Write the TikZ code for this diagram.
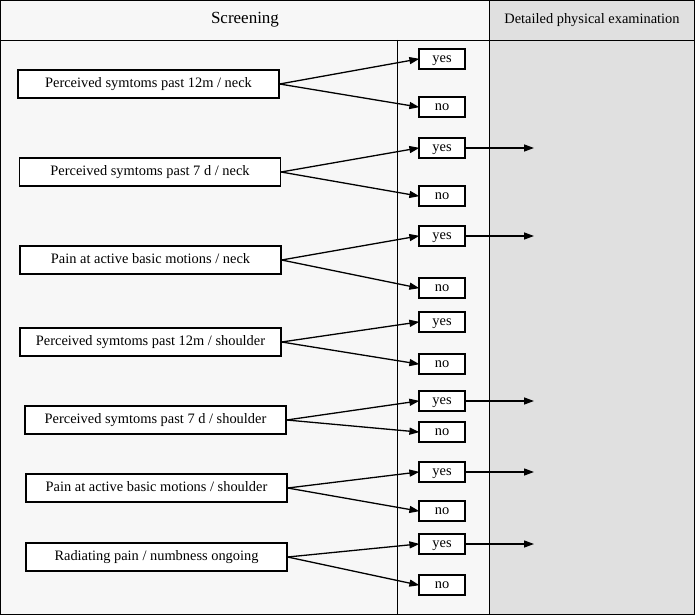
\documentclass[tikz,border=0pt]{standalone}
\usepackage{fontspec}
\setmainfont{Liberation Serif}
\usetikzlibrary{arrows.meta}

\tikzset{
  qbox/.style={draw, line width=1.2pt, fill=white, minimum width=261pt, minimum height=28pt,
    inner sep=0pt, text height=10pt, text depth=3pt, font=\fontsize{14.4}{16}\selectfont},
  abox/.style={draw, line width=1.2pt, fill=white, minimum width=46pt, minimum height=20pt,
    inner sep=0pt, text height=10pt, text depth=3pt, font=\fontsize{14.4}{16}\selectfont},
  link/.style={line width=1.3pt, -{Triangle[length=10pt,width=7pt]}, shorten >=-1pt},
}

\begin{document}
\begin{tikzpicture}[x=1pt, y=-1pt]
    \useasboundingbox (0,0) rectangle (695,615);

    % columns
    \fill[white!97!black] (0,0) rectangle (489,615);
    \fill[gray!24] (489,0) rectangle (695,615);
    \draw[thin] (0.5,0.5) rectangle (694.5,614.5);
    \draw (0,40) -- (695,40);
    \draw (397,40) -- (397,615);
    \draw (489,0) -- (489,615);

    \node (screen) at (245,20) {\fontsize{17}{19}\selectfont Screening};
    \node (detail) at (592,20) {\fontsize{14.4}{16}\selectfont Detailed physical examination};

    % questions
    \node[qbox] (q1) at (148.5,84) {Perceived symtoms past 12m / neck};
    \node[qbox] (q2) at (150,172) {Perceived symtoms past 7 d / neck};
    \node[qbox] (q3) at (150.5,260) {Pain at active basic motions / neck};
    \node[qbox] (q4) at (150.5,342) {Perceived symtoms past 12m / shoulder};
    \node[qbox] (q5) at (155.5,420) {Perceived symtoms past 7 d / shoulder};
    \node[qbox] (q6) at (156.5,488) {Pain at active basic motions / shoulder};
    \node[qbox] (q7) at (156.5,557) {Radiating pain / numbness ongoing};

    % answers
    \foreach \i/\ya/\yb in {1/59/107, 2/148/196, 3/236/288, 4/322/364,
                            5/401/432, 6/472/511, 7/544/585}
    {
      \node[abox] (y\i) at (442,\ya) {yes};
      \node[abox] (n\i) at (442,\yb) {no};
      \draw[link] (q\i.east) -- (y\i.west);
      \draw[link] (q\i.east) -- (n\i.west);
    }

    % on to the examination
    \foreach \i in {2,3,5,6,7}
    {
      \coordinate (e\i) at (533,0 |- y\i);
      \draw[link] (y\i.east) -- (e\i);
    }
\end{tikzpicture}
\end{document}
